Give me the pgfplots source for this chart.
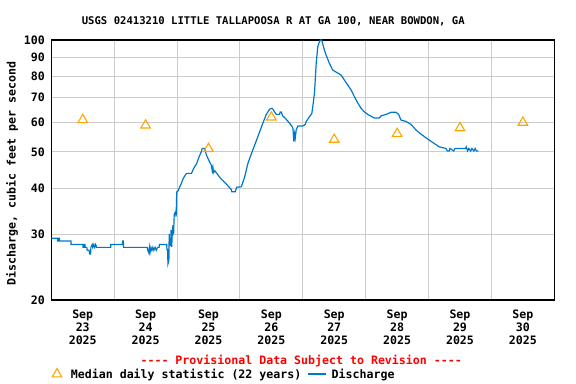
\documentclass[border=0pt]{standalone}
\usepackage{pgfplots}
\pgfplotsset{compat=1.18}
\usepackage{fontspec}
\newfontfamily\usgs[Ligatures=TeXOff]{DejaVu Sans Mono}
\newcommand\uf{\usgs\bfseries\fontsize{11.6bp}{13bp}\selectfont}
\newcommand\tf{\usgs\bfseries\fontsize{10.6bp}{13bp}\selectfont}
\definecolor{medorange}{RGB}{255,165,0}
\definecolor{qblue}{RGB}{0,120,200}
\begin{document}
\begin{tikzpicture}
\path[use as bounding box] (0,0) rectangle (576bp,384bp);
\begin{axis}[
  at={(51.3bp,84bp)}, anchor=south west,
  scale only axis, width=503bp, height=260bp,
  ymode=log, ymin=20, ymax=100,
  xmin=0, xmax=8,
  /pgf/number format/assume math mode=true,
  xtick={0.5,1.5,2.5,3.5,4.5,5.5,6.5,7.5},
  xticklabels={Sep\\23\\2025,Sep\\24\\2025,Sep\\25\\2025,Sep\\26\\2025,Sep\\27\\2025,Sep\\28\\2025,Sep\\29\\2025,Sep\\30\\2025},
  xticklabel style={align=center, font=\uf, yshift=-6bp},
  minor xtick={1,2,3,4,5,6,7},
  xminorgrids=true, xmajorgrids=false, ymajorgrids=true, yminorgrids=false,
  ytick={20,30,40,50,60,70,80,90,100},
  yticklabels={20,30,40,50,60,70,80,90,100},
  yticklabel style={font=\uf},
  minor ytick={},
  major tick length=0pt, minor tick length=0pt,
  yticklabel shift=3bp,
  grid style={gray!40, line width=1bp},
  minor grid style={gray!40, line width=1bp},
  axis line style={black, line width=1.5bp},
  ylabel={Discharge, cubic feet per second},
  ylabel style={font=\uf, at={(axis description cs:-0.078,0.486)}, anchor=center},
  legend style={at={(axis description cs:0,-0.285)}, anchor=west, draw=none, fill=none, font=\uf, inner sep=0pt},
  legend columns=2,
  legend cell align=left,
  /tikz/every even column/.append style={column sep=4.2bp},
]
\addplot[only marks, mark=triangle, mark size=5.5bp, mark options={draw=medorange, fill=none, line width=1.1bp},
  legend image code/.code={\path (0bp,0bp) (17bp,0bp); \draw[mark=triangle, mark size=5.5bp, mark options={draw=medorange, fill=none, line width=1.1bp}] plot coordinates {(5.3bp,0bp)};}] coordinates {
(0.5,61) (1.5,59) (2.5,51) (3.5,62) (4.5,54) (5.5,56) (6.5,58) (7.5,60)
};
\addlegendentry{Median daily statistic (22 years)}
\addplot[qblue, line width=1.2bp, mark=none,
  legend image code/.code={\path (0bp,0bp) (21bp,0bp); \draw[qblue, line width=1.2bp] (0bp,0bp) -- (17.4bp,0bp);}] table {
0.000 29.3
0.100 29.3
0.100 28.8
0.115 28.8
0.115 29.3
0.130 29.3
0.130 28.8
0.313 28.8
0.313 28.2
0.505 28.2
0.505 27.7
0.520 27.7
0.520 28.2
0.535 28.2
0.540 27.7
0.565 27.7
0.570 27.2
0.600 27.2
0.610 26.6
0.625 26.6
0.630 27.7
0.650 28.2
0.660 27.7
0.675 28.2
0.690 27.7
0.705 28.2
0.720 27.7
0.945 27.7
0.945 28.2
1.130 28.2
1.135 28.8
1.145 28.8
1.150 27.7
1.525 27.7
1.535 27.2
1.550 26.8
1.560 27.7
1.570 26.8
1.585 27.7
1.600 27.2
1.615 27.7
1.630 27.2
1.650 27.7
1.670 27.2
1.690 27.7
1.715 27.7
1.720 28.2
1.835 28.2
1.840 27.3
1.850 27.3
1.855 25.0
1.870 25.5
1.875 30.1
1.885 28.0
1.900 28.0
1.905 30.8
1.915 27.8
1.925 30.5
1.935 31.8
1.945 30.0
1.955 34.0
1.975 34.5
1.985 33.5
1.995 39.0
2.020 39.4
2.040 40.2
2.070 41.2
2.100 42.5
2.150 43.8
2.230 43.8
2.260 45.0
2.310 46.5
2.350 48.5
2.387 50.1
2.400 51.1
2.440 51.1
2.450 50.1
2.480 48.5
2.546 46.0
2.560 44.5
2.570 45.5
2.580 44.0
2.600 44.5
2.650 43.4
2.700 42.3
2.784 41.0
2.863 39.6
2.870 39.1
2.927 39.1
2.948 40.2
3.022 40.3
3.075 42.8
3.127 46.6
3.206 50.7
3.286 55.0
3.365 59.8
3.419 63.1
3.471 65.1
3.500 65.5
3.524 65.3
3.550 64.0
3.578 63.1
3.630 63.1
3.640 64.0
3.657 64.0
3.680 62.5
3.710 61.9
3.789 59.8
3.830 58.5
3.843 57.9
3.857 53.3
3.870 56.0
3.880 54.5
3.895 57.3
3.921 58.7
4.000 58.7
4.040 59.3
4.053 60.3
4.106 62.2
4.143 63.4
4.159 66.2
4.186 72.0
4.213 86.5
4.238 95.9
4.265 99.0
4.280 100
4.297 100
4.308 99.0
4.344 93.9
4.371 91.1
4.424 86.5
4.476 83.0
4.556 81.5
4.610 80.5
4.662 78.0
4.714 75.7
4.768 73.4
4.821 70.4
4.873 67.8
4.927 65.5
4.979 64.1
5.032 63.1
5.100 62.2
5.138 61.7
5.217 61.7
5.244 62.5
5.324 63.1
5.403 63.9
5.483 63.9
5.524 63.1
5.562 60.9
5.641 60.4
5.721 59.3
5.800 57.3
5.853 56.3
5.932 55.0
6.011 53.8
6.090 52.7
6.170 51.6
6.276 51.1
6.300 50.3
6.330 50.3
6.340 51.1
6.400 50.3
6.420 51.1
6.590 51.1
6.600 51.6
6.620 50.3
6.640 51.1
6.670 50.3
6.690 51.1
6.720 50.3
6.740 51.1
6.760 50.3
6.794 50.3
};
\addlegendentry{Discharge}
\end{axis}
\node[font=\tf, anchor=center] at (273.3bp,362.6bp) {USGS 02413210 LITTLE TALLAPOOSA R AT GA 100, NEAR BOWDON, GA};
\node[font=\uf, text=red, anchor=center] at (301.2bp,23.3bp) {---- Provisional Data Subject to Revision ----};
\end{tikzpicture}
\end{document}
